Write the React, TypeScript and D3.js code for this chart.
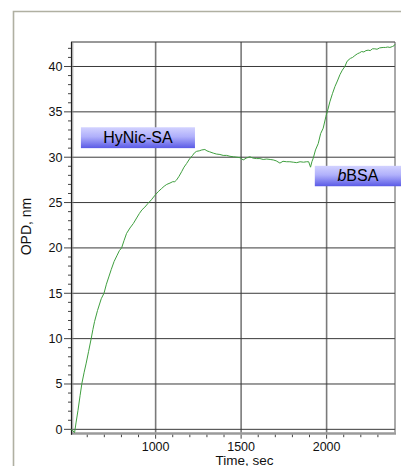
import React from "react";
import * as d3 from "d3";

const times = [505, 512, 526, 535, 546, 558, 569, 582, 594, 608, 623, 633, 643, 660, 682, 698, 712, 726, 740, 757, 775, 788, 801, 815, 830, 850, 870, 889, 905, 920, 937, 955, 975, 996, 1015, 1035, 1050, 1065, 1084, 1100, 1112, 1123, 1137, 1152, 1166, 1181, 1198, 1216, 1228, 1240, 1255, 1270, 1288, 1300, 1315, 1337, 1355, 1376, 1395, 1415, 1435, 1455, 1475, 1493, 1512, 1530, 1551, 1570, 1590, 1610, 1629, 1650, 1670, 1688, 1705, 1727, 1745, 1766, 1785, 1805, 1825, 1845, 1865, 1883, 1895, 1906, 1914, 1922, 1935, 1951, 1965, 1980, 1996, 2008, 2019, 2034, 2049, 2063, 2078, 2092, 2107, 2118, 2126, 2140, 2152, 2165, 2180, 2192, 2205, 2218, 2230, 2243, 2255, 2268, 2282, 2295, 2310, 2331, 2345, 2358, 2370, 2385, 2395, 2400];
const opd = [0.0, -0.1, -0.35, 0.8, 2.1, 3.7, 5.1, 6.3, 7.3, 8.6, 10.0, 11.0, 11.9, 13.1, 14.4, 15.0, 16.0, 16.8, 17.6, 18.5, 19.2, 19.7, 20.0, 20.8, 21.6, 22.2, 22.7, 23.3, 23.8, 24.2, 24.5, 24.9, 25.3, 25.8, 26.2, 26.55, 26.8, 27.0, 27.15, 27.3, 27.3, 27.5, 27.9, 28.4, 28.9, 29.3, 29.8, 30.2, 30.5, 30.65, 30.7, 30.8, 30.85, 30.7, 30.6, 30.45, 30.35, 30.3, 30.2, 30.2, 30.1, 30.05, 30.0, 29.95, 29.7, 29.9, 30.05, 29.9, 29.85, 29.85, 29.75, 29.8, 29.75, 29.7, 29.6, 29.35, 29.55, 29.5, 29.5, 29.45, 29.4, 29.5, 29.45, 29.5, 29.5, 28.9, 29.5, 29.9, 30.8, 31.5, 32.6, 33.2, 34.5, 35.3, 36.1, 37.0, 37.8, 38.4, 39.1, 39.6, 40.0, 40.5, 40.7, 40.9, 41.0, 41.2, 41.4, 41.5, 41.65, 41.6, 41.75, 41.8, 41.75, 41.95, 41.95, 41.9, 42.05, 42.1, 42.1, 42.15, 42.1, 42.2, 42.3, 42.45];

const xTicks = [1000, 1500, 2000];
const yTicks = [0, 5, 10, 15, 20, 25, 30, 35, 40];
const annotations = [
  { label: "HyNic-SA", italic: "", t0: 563, t1: 1230, v0: 33.3, v1: 31.0 },
  { label: "BSA", italic: "b", t0: 1931, t1: 2445, v0: 29.05, v1: 26.8 },
];

export default function App() {
  const W = 401, H = 466;
  const left = 71, right = 395, top = 42, bottom = 432.7;
  const x = d3.scaleLinear().domain([505, 2400]).range([left, right]);
  const y = d3.scaleLinear().domain([-0.37, 42.7]).range([bottom, top]);
  const line = d3.line<number>().x((_, i) => x(times[i])).y((v) => y(v));
  const minorX = d3.range(600, 2400, 100);
  const minorY = d3.range(0, 43, 1);
  const font = "Liberation Sans, Arial, sans-serif";
  return (
    <svg width={W} height={H} style={{ position: "absolute", left: 0, top: 0, background: "#fff" }}>
      <defs>
        <linearGradient id="lab" x1="0" y1="0" x2="0" y2="1">
          <stop offset="0%" stopColor="#d2d2ff" />
          <stop offset="45%" stopColor="#b0b0fb" />
          <stop offset="100%" stopColor="#5a5ae6" />
        </linearGradient>
      </defs>
      <rect x={0} y={0} width={W} height={H} fill="#ffffff" />
      <path d={`M13.5,${H} V11.5 H${W}`} fill="none" stroke="#b0b0a2" strokeWidth={1.6} />
      {xTicks.map((t) => (
        <line key={"vx" + t} x1={x(t)} x2={x(t)} y1={top} y2={bottom} stroke="#7a7a7a" strokeWidth={1.6} />
      ))}
      {yTicks.map((v) => (
        <line key={"hy" + v} x1={left} x2={right} y1={y(v)} y2={y(v)} stroke="#3a3a3a" strokeWidth={1} />
      ))}
      <line x1={left} x2={right} y1={top} y2={top} stroke="#333" strokeWidth={1} />
      <line x1={right} x2={right} y1={top} y2={bottom} stroke="#555" strokeWidth={1} />
      <line x1={left} x2={right + 1} y1={bottom + 0.8} y2={bottom + 0.8} stroke="#9a9a9a" strokeWidth={2.6} />
      <line x1={left + 0.5} x2={left + 0.5} y1={top} y2={bottom + 2} stroke="#222" strokeWidth={1.2} />
      <line x1={left + 1.8} x2={left + 1.8} y1={top} y2={bottom} stroke="#888" strokeWidth={0.8} />
      {minorY.map((v) => (
        <line key={"my" + v} x1={v % 5 === 0 ? left - 7 : left - 3} x2={left} y1={y(v)} y2={y(v)} stroke="#444" strokeWidth={1} />
      ))}
      {minorX.map((t) => (
        <line key={"mx" + t} x1={x(t)} x2={x(t)} y1={bottom + 2} y2={bottom + (t % 500 === 0 ? 6 : 4.5)} stroke="#444" strokeWidth={1} />
      ))}
      {yTicks.map((v) => (
        <text key={"yl" + v} x={62.5} y={y(v) + 4.3} textAnchor="end" fontFamily={font} fontSize={12.5} fill="#111">{v}</text>
      ))}
      {xTicks.map((t) => (
        <text key={"xl" + t} x={x(t)} y={451} textAnchor="middle" fontFamily={font} fontSize={12.5} fill="#111">{t}</text>
      ))}
      <text x={244.5} y={464.5} textAnchor="middle" fontFamily={font} fontSize={13.5} fill="#111">Time, sec</text>
      <text transform="translate(31,226.5) rotate(-90)" textAnchor="middle" fontFamily={font} fontSize={14} fill="#111">OPD, nm</text>
      <path d={line(opd) || ""} fill="none" stroke="#3f9f3f" strokeWidth={1} />
      {annotations.map((a) => {
        const x0 = x(a.t0), x1 = x(a.t1), y0 = y(a.v0), y1 = y(a.v1);
        return (
          <g key={a.label}>
            <rect x={x0} y={y0} width={x1 - x0} height={y1 - y0} fill="url(#lab)" />
            <text x={(x0 + Math.min(x1, W)) / 2} y={y1 - 4.8} textAnchor="middle" fontFamily={font} fontSize={16} fill="#000">
              {a.italic ? <tspan fontStyle="italic">{a.italic}</tspan> : null}
              {a.label}
            </text>
          </g>
        );
      })}
    </svg>
  );
}
